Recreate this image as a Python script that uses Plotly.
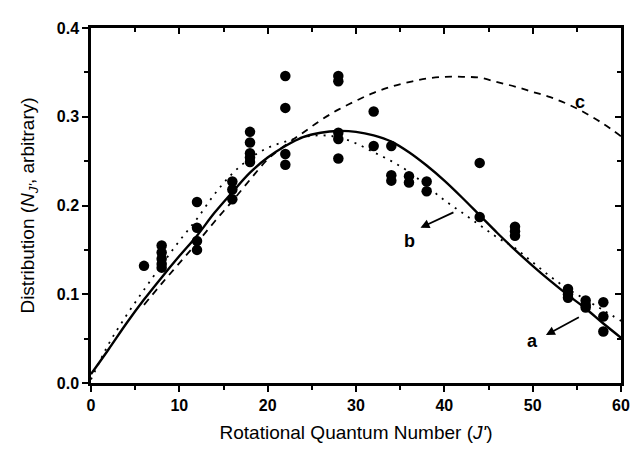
import plotly.graph_objects as go

# Measured points (J, distribution)
pts_J = [6,
         8, 8, 8, 8, 8,
         12, 12, 12, 12,
         16, 16, 16,
         18, 18, 18, 18, 18,
         22, 22, 22, 22,
         28, 28, 28, 28, 28,
         32, 32,
         34, 34, 34,
         36, 36,
         38, 38,
         44, 44,
         48, 48, 48,
         54, 54, 54,
         56, 56, 56,
         58, 58, 58]
pts_N = [0.132,
         0.155, 0.147, 0.140, 0.134, 0.130,
         0.204, 0.175, 0.160, 0.150,
         0.227, 0.218, 0.207,
         0.283, 0.271, 0.259, 0.254, 0.249,
         0.346, 0.310, 0.258, 0.246,
         0.346, 0.340, 0.282, 0.275, 0.253,
         0.306, 0.267,
         0.267, 0.234, 0.228,
         0.233, 0.226,
         0.227, 0.216,
         0.248, 0.187,
         0.176, 0.171, 0.166,
         0.106, 0.100, 0.096,
         0.093, 0.088, 0.085,
         0.091, 0.075, 0.058]

# Curve a (solid)
a_J = [0, 2, 4, 6, 8, 10, 12, 14, 16, 18, 20, 22, 24, 26, 28, 30, 32, 34, 36, 38,
       40, 42, 44, 46, 48, 50, 52, 54, 56, 58, 60]
a_N = [0.010, 0.038, 0.067, 0.094, 0.119, 0.143, 0.166, 0.192, 0.215, 0.237, 0.254,
       0.267, 0.277, 0.282, 0.284, 0.283, 0.279, 0.272, 0.260, 0.245, 0.228, 0.209,
       0.189, 0.169, 0.150, 0.132, 0.115, 0.099, 0.084, 0.067, 0.051]

# Curve b (dotted)
b_J = a_J
b_N = [0.004, 0.044, 0.076, 0.105, 0.133, 0.160, 0.185, 0.213, 0.236, 0.253, 0.265,
       0.272, 0.277, 0.279, 0.277, 0.270, 0.260, 0.250, 0.238, 0.222, 0.206, 0.192,
       0.178, 0.164, 0.152, 0.136, 0.120, 0.106, 0.094, 0.082, 0.070]

# Curve c (dashed)
c_J = [6, 8, 10, 12, 14, 16, 18, 20, 22, 24, 26, 28, 30, 32, 34, 36, 38, 40, 42, 44,
       46, 48, 50, 52, 54, 56, 58, 60]
c_N = [0.088, 0.112, 0.135, 0.158, 0.182, 0.205, 0.229, 0.252, 0.268, 0.282, 0.296,
       0.308, 0.318, 0.327, 0.334, 0.339, 0.343, 0.345, 0.345, 0.344, 0.339, 0.334,
       0.328, 0.322, 0.314, 0.304, 0.292, 0.278]

x_ticks = [0, 10, 20, 30, 40, 50, 60]
y_ticks = [0.0, 0.1, 0.2, 0.3, 0.4]
y_tick_text = ["0.0", "0.1", "0.2", "0.3", "0.4"]

fig = go.Figure()
fig.add_trace(go.Scatter(x=c_J, y=c_N, mode="lines", line_shape="spline",
                         line=dict(color="black", width=1.8, dash="7px,6px")))
fig.add_trace(go.Scatter(x=b_J, y=b_N, mode="lines", line_shape="spline",
                         line=dict(color="black", width=1.8, dash="2px,6px")))
fig.add_trace(go.Scatter(x=a_J, y=a_N, mode="lines", line_shape="spline",
                         line=dict(color="black", width=2.4)))
fig.add_trace(go.Scatter(x=pts_J, y=pts_N, mode="markers",
                         marker=dict(color="black", size=10.5)))
# mirror axes carrier
fig.add_trace(go.Scatter(x=[], y=[], xaxis="x2", yaxis="y2", showlegend=False))

tickfont = dict(family="Liberation Sans, Arial", size=16, color="black", weight="bold")
titlefont = dict(family="Liberation Sans, Arial", size=19, color="black")

# the page body adds an 8px offset; the figure is sized to fill the window
fig.update_layout(
    width=634, height=444,
    margin=dict(l=83, r=14, t=16, b=60),
    paper_bgcolor="white", plot_bgcolor="white",
    showlegend=False,
    xaxis=dict(range=[0, 60], tickvals=x_ticks, ticktext=[str(v) for v in x_ticks],
               ticks="outside", ticklen=6, tickwidth=2, tickcolor="black",
               showline=True, linecolor="black", linewidth=2.5, showgrid=False,
               zeroline=False, tickfont=tickfont,
               minor=dict(dtick=5, ticks="outside", ticklen=4, tickwidth=2, tickcolor="black"),
               title=dict(text="Rotational Quantum Number (<i>J'</i>)", font=titlefont, standoff=13)),
    yaxis=dict(range=[0, 0.4], tickvals=y_ticks, ticktext=y_tick_text,
               ticks="outside", ticklen=6, tickwidth=2, tickcolor="black",
               showline=True, linecolor="black", linewidth=2.5, showgrid=False,
               zeroline=False, tickfont=tickfont,
               minor=dict(dtick=0.05, ticks="outside", ticklen=4, tickwidth=2, tickcolor="black"),
               title=dict(text="Distribution (<i>N</i><sub><i>J'</i></sub>, arbitrary)",
                          font=titlefont, standoff=18)),
    xaxis2=dict(range=[0, 60], overlaying="x", side="top", anchor="y",
                tickvals=x_ticks, showticklabels=False, ticks="inside", ticklen=6,
                tickwidth=2, tickcolor="black", showline=True, linecolor="black",
                linewidth=2.5, showgrid=False, zeroline=False,
                minor=dict(dtick=5, ticks="inside", ticklen=4, tickwidth=2, tickcolor="black")),
    yaxis2=dict(range=[0, 0.4], overlaying="y", side="right", anchor="x",
                tickvals=y_ticks, showticklabels=False, ticks="inside", ticklen=6,
                tickwidth=2, tickcolor="black", showline=True, linecolor="black",
                linewidth=2.5, showgrid=False, zeroline=False,
                minor=dict(dtick=0.05, ticks="inside", ticklen=4, tickwidth=2, tickcolor="black")),
)

lab_font = dict(family="Liberation Sans, Arial", size=18, color="black", weight="bold")
fig.add_annotation(x=36.0, y=0.160, text="b", showarrow=False, font=lab_font)
fig.add_annotation(x=50.0, y=0.047, text="a", showarrow=False, font=lab_font)
fig.add_annotation(x=55.4, y=0.317, text="c", showarrow=False, font=lab_font)
fig.add_annotation(x=37.3, y=0.175, ax=41.2, ay=0.193, axref="x", ayref="y", text="",
                   showarrow=True, arrowhead=2, arrowsize=1, arrowwidth=1.8, arrowcolor="black")
fig.add_annotation(x=51.5, y=0.054, ax=55.4, ay=0.075, axref="x", ayref="y", text="",
                   showarrow=True, arrowhead=2, arrowsize=1, arrowwidth=1.8, arrowcolor="black")

fig.write_html("out.html")
